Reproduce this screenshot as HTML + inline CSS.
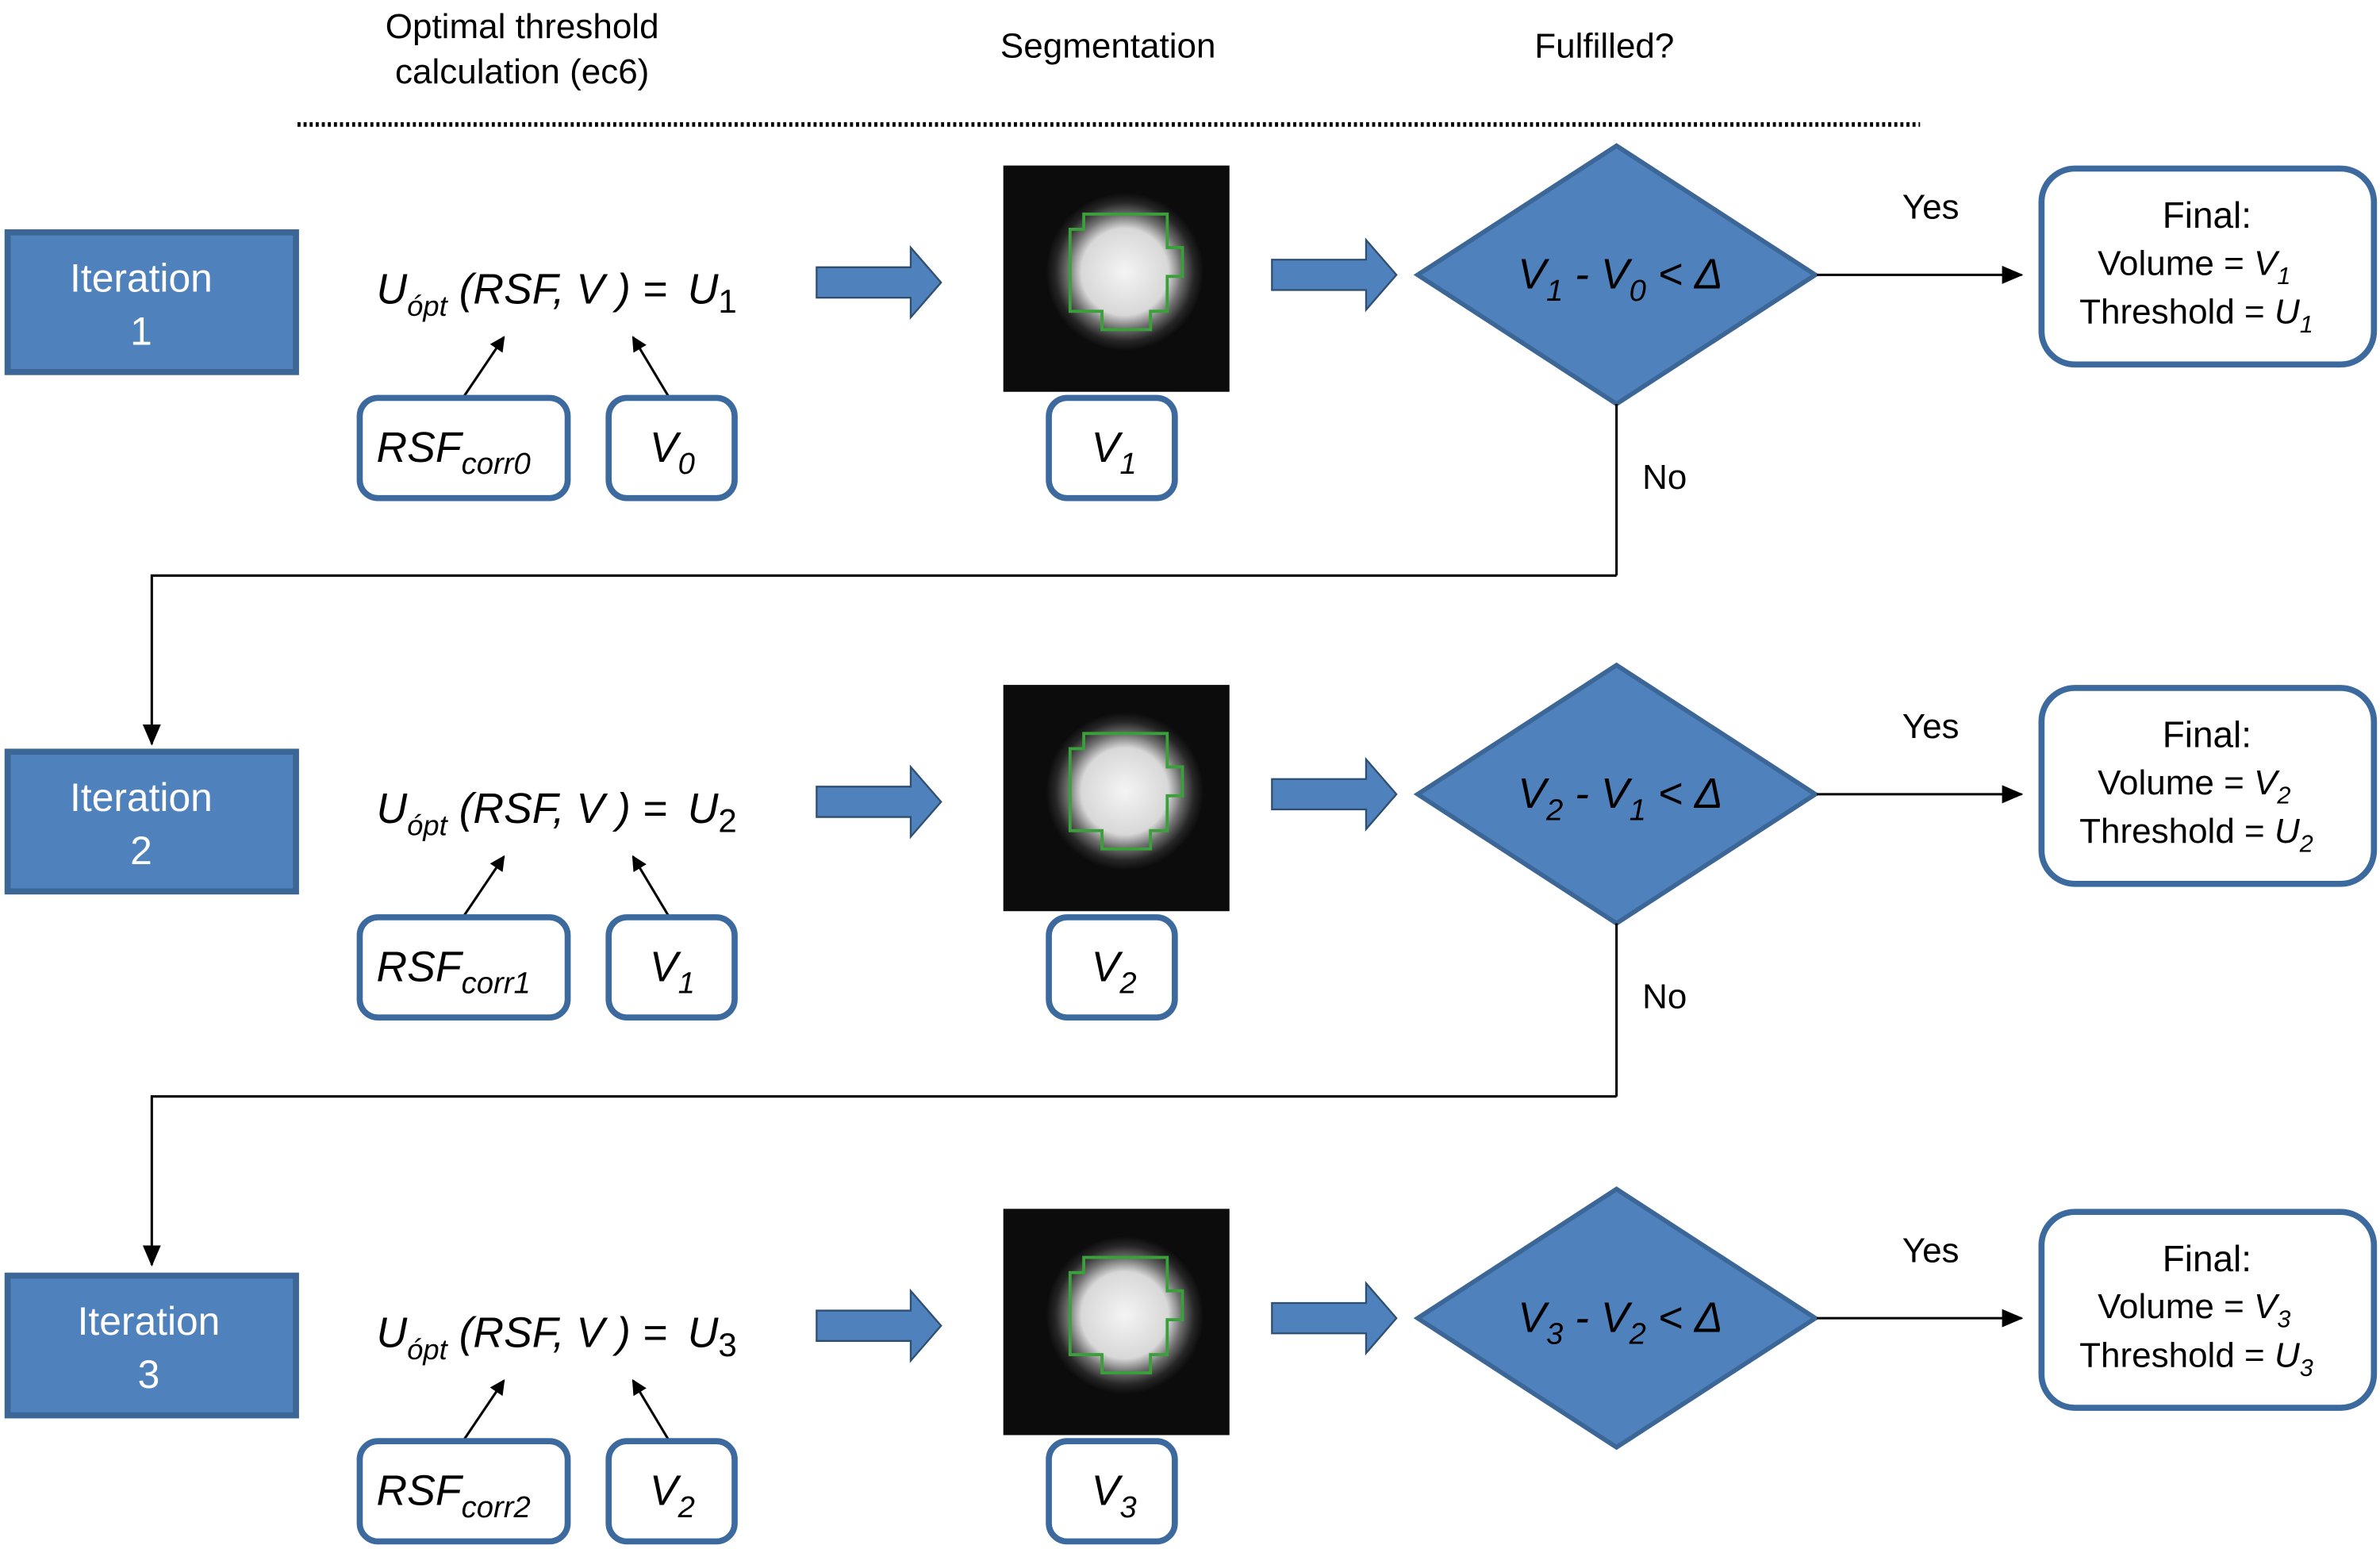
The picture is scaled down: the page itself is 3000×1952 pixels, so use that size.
<!DOCTYPE html>
<html><head><meta charset="utf-8"><style>
html,body{margin:0;padding:0;background:#fff;}
svg{display:block;}
text{font-family:"Liberation Sans",sans-serif;}
</style></head><body>
<svg width="3000" height="1952" viewBox="0 0 1568 1020" preserveAspectRatio="none" xmlns="http://www.w3.org/2000/svg">
<defs>
<marker id="ah" markerWidth="10" markerHeight="10" refX="9" refY="5" orient="auto" markerUnits="userSpaceOnUse">
<path d="M0,0 L10,5 L0,10 z" fill="#000"/></marker>
<marker id="ah2" markerWidth="14" markerHeight="12" refX="13" refY="6" orient="auto" markerUnits="userSpaceOnUse">
<path d="M0,0 L14,6 L0,12 z" fill="#000"/></marker>
<radialGradient id="blob" cx="0.5" cy="0.5" r="0.5">
<stop offset="0" stop-color="#f4f4f4"/><stop offset="0.55" stop-color="#d8d8d8"/><stop offset="0.72" stop-color="#707070"/><stop offset="0.88" stop-color="#262626"/><stop offset="1" stop-color="#0c0c0c"/></radialGradient>
<g id="row">
<rect x="5" y="153" width="190" height="92" fill="#4f81bd" stroke="#3b6696" stroke-width="4"/>
<g font-size="28" font-style="italic" fill="#000">
<text x="248" y="200">U<tspan font-size="19" dy="8">ópt</tspan><tspan dy="-8"> (RSF, V ) = </tspan></text>
</g>
<line x1="305" y1="262" x2="332" y2="222" stroke="#000" stroke-width="1.6" marker-end="url(#ah)"/>
<line x1="441" y1="262" x2="417" y2="222" stroke="#000" stroke-width="1.6" marker-end="url(#ah)"/>
<rect x="237" y="262" width="137" height="66" rx="12" fill="#fff" stroke="#3c6a9e" stroke-width="4"/>
<rect x="401" y="262" width="83" height="66" rx="12" fill="#fff" stroke="#3c6a9e" stroke-width="4"/>
<rect x="691" y="262" width="83" height="66" rx="12" fill="#fff" stroke="#3c6a9e" stroke-width="4"/>
<rect x="661" y="109" width="149" height="149" fill="#0c0c0c"/>
<circle cx="741" cy="179" r="52" fill="url(#blob)"/>
<polygon points="714,141 769,141 769,163 779,163 779,182 769,182 769,205 758,205 758,217 726,217 726,205 705,205 705,151 714,151" fill="none" stroke="#3aa03a" stroke-width="2"/>
<path d="M538,176 L600,176 L600,163 L620,186 L600,209 L600,196 L538,196 z" fill="#4f81bd" stroke="#2f4f70" stroke-width="1.2"/>
<path d="M838,171 L900,171 L900,158 L920,181 L900,204 L900,191 L838,191 z" fill="#4f81bd" stroke="#2f4f70" stroke-width="1.2"/>
<polygon points="1065,96 1196,181 1065,266 934,181" fill="#4f81bd" stroke="#3b6696" stroke-width="3"/>
<line x1="1197" y1="181" x2="1332" y2="181" stroke="#000" stroke-width="1.6" marker-end="url(#ah2)"/>
<text x="1272" y="144" font-size="23" text-anchor="middle">Yes</text>
<rect x="1345" y="111" width="219" height="129" rx="22" fill="#fff" stroke="#3c6a9e" stroke-width="4"/>
<text x="1454" y="150" font-size="24" text-anchor="middle">Final:</text>
</g>
</defs>

<text x="344" y="25" font-size="23" text-anchor="middle">Optimal threshold</text>
<text x="344" y="55" font-size="23" text-anchor="middle">calculation (ec6)</text>
<text x="730" y="38" font-size="23" text-anchor="middle">Segmentation</text>
<text x="1057" y="38" font-size="23" text-anchor="middle">Fulfilled?</text>
<line x1="196" y1="82" x2="1265" y2="82" stroke="#000" stroke-width="3" stroke-dasharray="2,2"/>

<use href="#row"/>
<g>
<text x="93" y="192" font-size="26" fill="#fff" text-anchor="middle">Iteration</text>
<text x="93" y="227" font-size="26" fill="#fff" text-anchor="middle">1</text>
<text x="453" y="200" font-size="28" font-style="italic">U<tspan font-size="22" font-style="normal" dy="6">1</tspan></text>
<text x="248" y="304" font-size="28" font-style="italic">RSF<tspan font-size="20" dy="8">corr0</tspan></text>
<text x="428" y="304" font-size="28" font-style="italic">V<tspan font-size="20" dy="8">0</tspan></text>
<text x="719" y="304" font-size="28" font-style="italic">V<tspan font-size="20" dy="8">1</tspan></text>
<text x="1000" y="190" font-size="28" font-style="italic">V<tspan font-size="20" dy="8">1</tspan><tspan dy="-8"> - V</tspan><tspan font-size="20" dy="8">0</tspan><tspan dy="-8"> &lt; Δ</tspan></text>
<text x="1382" y="181" font-size="23">Volume = <tspan font-style="italic">V</tspan><tspan font-style="italic" font-size="16" dy="6">1</tspan></text>
<text x="1370" y="213" font-size="23">Threshold = <tspan font-style="italic">U</tspan><tspan font-style="italic" font-size="16" dy="6">1</tspan></text>
<line x1="1065" y1="266" x2="1065" y2="379" stroke="#000" stroke-width="1.6"/>
<polyline points="1065,379 100,379 100,490" fill="none" stroke="#000" stroke-width="1.6" marker-end="url(#ah2)"/>
<text x="1082" y="322" font-size="23">No</text>
</g>

<g transform="translate(0,342)">
<use href="#row"/>
<text x="93" y="192" font-size="26" fill="#fff" text-anchor="middle">Iteration</text>
<text x="93" y="227" font-size="26" fill="#fff" text-anchor="middle">2</text>
<text x="453" y="200" font-size="28" font-style="italic">U<tspan font-size="22" font-style="normal" dy="6">2</tspan></text>
<text x="248" y="304" font-size="28" font-style="italic">RSF<tspan font-size="20" dy="8">corr1</tspan></text>
<text x="428" y="304" font-size="28" font-style="italic">V<tspan font-size="20" dy="8">1</tspan></text>
<text x="719" y="304" font-size="28" font-style="italic">V<tspan font-size="20" dy="8">2</tspan></text>
<text x="1000" y="190" font-size="28" font-style="italic">V<tspan font-size="20" dy="8">2</tspan><tspan dy="-8"> - V</tspan><tspan font-size="20" dy="8">1</tspan><tspan dy="-8"> &lt; Δ</tspan></text>
<text x="1382" y="181" font-size="23">Volume = <tspan font-style="italic">V</tspan><tspan font-style="italic" font-size="16" dy="6">2</tspan></text>
<text x="1370" y="213" font-size="23">Threshold = <tspan font-style="italic">U</tspan><tspan font-style="italic" font-size="16" dy="6">2</tspan></text>
<line x1="1065" y1="266" x2="1065" y2="380" stroke="#000" stroke-width="1.6"/>
<polyline points="1065,380 100,380 100,491" fill="none" stroke="#000" stroke-width="1.6" marker-end="url(#ah2)"/>
<text x="1082" y="322" font-size="23">No</text>
</g>

<g transform="translate(0,687)">
<use href="#row"/>
<text x="98" y="192" font-size="26" fill="#fff" text-anchor="middle">Iteration</text>
<text x="98" y="227" font-size="26" fill="#fff" text-anchor="middle">3</text>
<text x="453" y="200" font-size="28" font-style="italic">U<tspan font-size="22" font-style="normal" dy="6">3</tspan></text>
<text x="248" y="304" font-size="28" font-style="italic">RSF<tspan font-size="20" dy="8">corr2</tspan></text>
<text x="428" y="304" font-size="28" font-style="italic">V<tspan font-size="20" dy="8">2</tspan></text>
<text x="719" y="304" font-size="28" font-style="italic">V<tspan font-size="20" dy="8">3</tspan></text>
<text x="1000" y="190" font-size="28" font-style="italic">V<tspan font-size="20" dy="8">3</tspan><tspan dy="-8"> - V</tspan><tspan font-size="20" dy="8">2</tspan><tspan dy="-8"> &lt; Δ</tspan></text>
<text x="1382" y="181" font-size="23">Volume = <tspan font-style="italic">V</tspan><tspan font-style="italic" font-size="16" dy="6">3</tspan></text>
<text x="1370" y="213" font-size="23">Threshold = <tspan font-style="italic">U</tspan><tspan font-style="italic" font-size="16" dy="6">3</tspan></text>
</g>
</svg>
</body></html>
